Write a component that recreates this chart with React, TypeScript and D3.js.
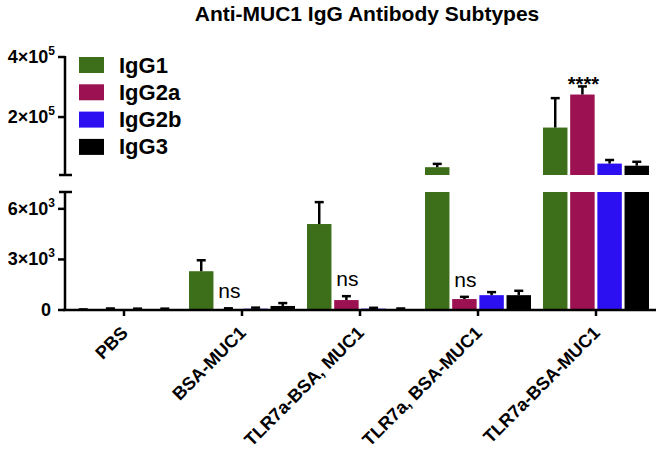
import React from 'react';
import * as d3 from 'd3';

const categories = ['PBS', 'BSA-MUC1', 'TLR7a-BSA, MUC1', 'TLR7a, BSA-MUC1', 'TLR7a-BSA-MUC1'];
const subtypes = ['IgG1', 'IgG2a', 'IgG2b', 'IgG3'];
const colors = ['#3d6e19', '#9c1152', '#2c10f2', '#000000'];

const igg1 = [15, 2300, 5100, 33000, 165000];
const igg1Err = [20, 650, 1300, 11000, 98000];
const igg2a = [50, 60, 590, 650, 275000];
const igg2aErr = [40, 40, 230, 130, 27000];
const igg2b = [50, 80, 80, 880, 45000];
const igg2bErr = [30, 60, 50, 180, 12000];
const igg3 = [50, 240, 60, 880, 38000];
const igg3Err = [30, 170, 30, 260, 13000];

const sigLabels = ['', 'ns', 'ns', 'ns', '****'];

const lowTicks = [0, 3000, 6000];
const highTicks = [200000, 400000];

const values = [igg1, igg2a, igg2b, igg3];
const errors = [igg1Err, igg2aErr, igg2bErr, igg3Err];

const W = 660;
const H = 455;
const axisX = 65;
const breakAt = 7000;

const font = '"Liberation Sans", Arial, sans-serif';

const x0 = d3.scaleBand().domain(categories).range([axisX, 655]).paddingInner(0).paddingOuter(0);
const x1 = d3.scaleBand().domain(subtypes).range([0, 106]).paddingInner(0.1);
const yLow = d3.scaleLinear().domain([0, breakAt]).range([310, 192]);
const yHigh = d3.scaleLinear().domain([breakAt, 400000]).range([175, 57]);

const yOf = (v) => (v <= breakAt ? yLow(v) : yHigh(v));

const tickLabel = (v) => {
  if (v === 0) return { base: '0', exp: '' };
  const e = Math.floor(Math.log10(v));
  return { base: `${Math.round(v / Math.pow(10, e))}×10`, exp: String(e) };
};

export default function App() {
  const groupOffset = (x0.bandwidth() - 106) / 2;

  return (
    <svg width={W} height={H} style={{ position: 'absolute', left: 0, top: 0, background: '#fff' }} fontFamily={font}>
      <text x={367} y={21} textAnchor="middle" fontSize={21} fontWeight="bold">
        Anti-MUC1 IgG Antibody Subtypes
      </text>

      {/* bars */}
      {categories.map((c, i) => {
        const gx = x0(c) + groupOffset;
        return (
          <g key={c}>
            {subtypes.map((s, j) => {
              const v = values[j][i];
              const e = errors[j][i];
              const bx = gx + x1(s);
              const bw = x1.bandwidth();
              const cx = bx + bw / 2;
              const top = yOf(v);
              const cap = yOf(v + e);
              return (
                <g key={s}>
                  {v <= breakAt ? (
                    <rect x={bx} y={top} width={bw} height={310 - top} fill={colors[j]} />
                  ) : (
                    <>
                      <rect x={bx} y={192} width={bw} height={118} fill={colors[j]} />
                      <rect x={bx} y={top} width={bw} height={175 - top} fill={colors[j]} />
                    </>
                  )}
                  <line x1={cx} x2={cx} y1={top} y2={cap} stroke="#000" strokeWidth={2.5} />
                  <line x1={cx - 4.5} x2={cx + 4.5} y1={cap} y2={cap} stroke="#000" strokeWidth={2.5} />
                  {j === 1 && sigLabels[i] && (
                    <text
                      x={cx + 1}
                      y={sigLabels[i] === 'ns' ? cap - 10 : cap + 5}
                      textAnchor="middle"
                      fontSize={sigLabels[i] === 'ns' ? 21 : 20}
                      fontWeight={sigLabels[i] === 'ns' ? 'normal' : 'bold'}
                    >
                      {sigLabels[i]}
                    </text>
                  )}
                </g>
              );
            })}
          </g>
        );
      })}

      {/* y axis, upper segment */}
      <line x1={axisX} x2={axisX} y1={yHigh(400000) - 1} y2={175} stroke="#000" strokeWidth={2.5} />
      <line x1={axisX - 6} x2={axisX + 7} y1={175} y2={175} stroke="#000" strokeWidth={2.5} />
      {highTicks.map((t) => {
        const l = tickLabel(t);
        return (
          <g key={t}>
            <line x1={axisX - 7} x2={axisX} y1={yHigh(t)} y2={yHigh(t)} stroke="#000" strokeWidth={2.5} />
            <text x={55} y={yHigh(t) + 6} textAnchor="end" fontSize={18} fontWeight="bold">
              {l.base}
              <tspan dy={-8} fontSize={12}>{l.exp}</tspan>
            </text>
          </g>
        );
      })}

      {/* y axis, lower segment */}
      <line x1={axisX} x2={axisX} y1={192} y2={311} stroke="#000" strokeWidth={2.5} />
      <line x1={axisX - 6} x2={axisX + 7} y1={192} y2={192} stroke="#000" strokeWidth={2.5} />
      {lowTicks.map((t) => {
        const l = tickLabel(t);
        return (
          <g key={t}>
            <line x1={axisX - 7} x2={axisX} y1={yLow(t)} y2={yLow(t)} stroke="#000" strokeWidth={2.5} />
            <text x={t === 0 ? 51 : 55} y={yLow(t) + 6} textAnchor="end" fontSize={18} fontWeight="bold">
              {l.base}
              {l.exp && <tspan dy={-8} fontSize={12}>{l.exp}</tspan>}
            </text>
          </g>
        );
      })}

      {/* x axis */}
      <line x1={axisX - 2} x2={656} y1={310} y2={310} stroke="#000" strokeWidth={2.5} />
      {categories.map((c) => {
        const cx = x0(c) + x0.bandwidth() / 2;
        return (
          <g key={c}>
            <line x1={cx} x2={cx} y1={310} y2={316} stroke="#000" strokeWidth={2.5} />
            <text
              transform={`translate(${cx + 5},${334}) rotate(-45)`}
              textAnchor="end"
              fontSize={18}
              fontWeight="bold"
            >
              {c}
            </text>
          </g>
        );
      })}

      {/* legend */}
      {subtypes.map((s, j) => (
        <g key={s} transform={`translate(79,${57 + j * 27.3})`}>
          <rect width={25} height={16} fill={colors[j]} />
          <text x={40} y={15.5} fontSize={22} fontWeight="bold">
            {s}
          </text>
        </g>
      ))}
    </svg>
  );
}
